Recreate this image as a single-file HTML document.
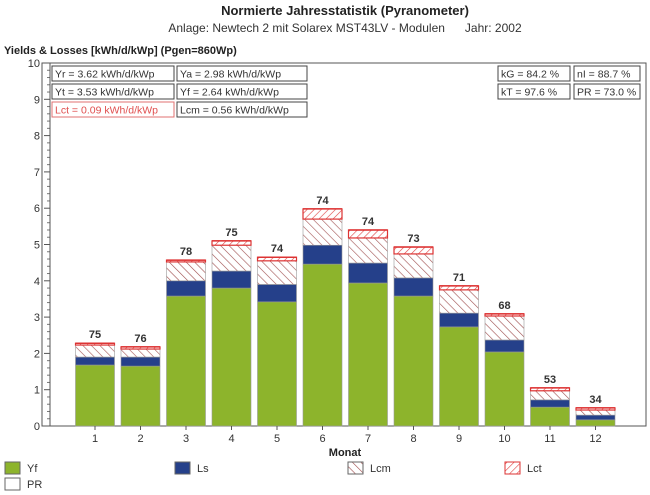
<!DOCTYPE html>
<html><head><meta charset="utf-8"><style>
body{margin:0;background:#fff;}
svg{display:block;font-family:"Liberation Sans",sans-serif;}
</style></head><body>
<svg id="chart" width="650" height="495" viewBox="0 0 650 495">
<defs>
<pattern id="hLcm" width="6" height="6" patternUnits="userSpaceOnUse" patternTransform="rotate(-45)"><rect width="6" height="6" fill="#fff"/><line x1="0" y1="0" x2="0" y2="6" stroke="#a05050" stroke-width="1.2"/></pattern>
<pattern id="hLct" width="5" height="5" patternUnits="userSpaceOnUse" patternTransform="rotate(45)"><rect width="5" height="5" fill="#fff"/><line x1="0" y1="0" x2="0" y2="5" stroke="#e04040" stroke-width="1.2"/></pattern>
</defs>
<text x="345" y="15" text-anchor="middle" font-size="13" font-weight="bold" fill="#222">Normierte Jahresstatistik (Pyranometer)</text>
<text x="345" y="32" text-anchor="middle" font-size="12" fill="#333">Anlage: Newtech 2 mit Solarex MST43LV - Modulen &#160;&#160;&#160;&#160;&#160;Jahr: 2002</text>
<text x="4" y="54" font-size="11" font-weight="bold" fill="#222">Yields &amp; Losses [kWh/d/kWp] (Pgen=860Wp)</text>
<rect x="42" y="63" width="604" height="363" fill="none" stroke="#555" stroke-width="1"/>
<g id="axes"></g>
<g id="bars"></g>
<g id="boxes" font-size="10.5"></g>
<text x="345" y="456" text-anchor="middle" font-size="11" font-weight="bold" fill="#222">Monat</text>
<g id="legend" font-size="11"></g>
</svg>
<script>
const months=["1","2","3","4","5","6","7","8","9","10","11","12"];
const yf=[1.68,1.65,3.58,3.8,3.42,4.46,3.94,3.58,2.73,2.04,0.52,0.17];
const ls=[0.22,0.25,0.42,0.47,0.48,0.52,0.55,0.5,0.38,0.33,0.2,0.13];
const lcm=[0.33,0.22,0.52,0.71,0.65,0.72,0.69,0.66,0.64,0.66,0.25,0.14];
const lct=[0.05,0.06,0.05,0.12,0.1,0.28,0.22,0.19,0.11,0.06,0.08,0.06];
const pr=[75,76,78,75,74,74,74,73,71,68,53,34];
const yTicks=[0,1,2,3,4,5,6,7,8,9,10];
const NS="http://www.w3.org/2000/svg";
const y=v=>426-v*36.3;
const x=i=>95+i*45.5;
function mk(t,a,p){const e=document.createElementNS(NS,t);for(const k in a)e.setAttribute(k,a[k]);p.appendChild(e);return e;}
const axes=document.getElementById('axes');
yTicks.forEach(t=>{
 const l=mk('line',{x1:44,x2:50,y1:y(t),y2:y(t),stroke:'#555'},axes);
 
 
 if(t<10){for(let k=1;k<5;k++){const m=mk('line',{x1:47,x2:50,y1:y(t+k*0.2),y2:y(t+k*0.2),stroke:'#777'},axes);}}
 const tx=mk('text',{x:40,y:y(t)+4,'text-anchor':'end','font-size':11,fill:'#333'},axes);
 tx.textContent=t;
 
 
});
const ax=mk('line',{x1:50,x2:50,y1:63,y2:426,stroke:'#555'},axes);


const bars=document.getElementById('bars');
months.forEach((m,i)=>{
 const cx=x(i),w=39,x0=cx-w/2;
 const segs=[[0,yf[i],'#8db42c','yf'],[yf[i],yf[i]+ls[i],'#25408a','ls'],[yf[i]+ls[i],yf[i]+ls[i]+lcm[i],'url(#hLcm)','lcm'],[yf[i]+ls[i]+lcm[i],yf[i]+ls[i]+lcm[i]+lct[i],'url(#hLct)','lct']];
 segs.forEach(s=>{
  const r=mk('rect',{x:x0,y:y(s[1]),width:w,height:y(s[0])-y(s[1]),fill:s[2],stroke:s[3]=='lct'?'#d33':'#999','stroke-width':s[3]=='lct'?1.2:0.6},bars);
  
  
 });
 const top=yf[i]+ls[i]+lcm[i]+lct[i];
 const ln=mk('line',{x1:x0,x2:x0+w,y1:y(top),y2:y(top),stroke:'#d33','stroke-width':1.5},bars);
 
 
 const t=mk('text',{x:cx,y:y(top)-5,'text-anchor':'middle','font-size':11,'font-weight':'bold',fill:'#333'},bars);
 t.textContent=pr[i];
 
 
 const tk=mk('line',{x1:cx,x2:cx,y1:426,y2:430,stroke:'#555'},bars);
 
 
 const xl=mk('text',{x:cx,y:442,'text-anchor':'middle','font-size':11,fill:'#333'},bars);
 xl.textContent=m;
 
 
});
const boxes=document.getElementById('boxes');
[[52,66,122,'Yr = 3.62 kWh/d/kWp','#333'],[177,66,130,'Ya = 2.98 kWh/d/kWp','#333'],[52,84,122,'Yt = 3.53 kWh/d/kWp','#333'],[177,84,130,'Yf = 2.64 kWh/d/kWp','#333'],[52,102,122,'Lct = 0.09 kWh/d/kWp','#e05050'],[177,102,130,'Lcm = 0.56 kWh/d/kWp','#333'],[498,66,72,'kG = 84.2 %','#333'],[574,66,66,'nI = 88.7 %','#333'],[498,84,72,'kT = 97.6 %','#333'],[574,84,66,'PR = 73.0 %','#333']].forEach(b=>{
 const r=mk('rect',{x:b[0],y:b[1],width:b[2],height:15,fill:'#fff',stroke:b[4]=='#333'?'#444':'#e07070'},boxes);
 
 
 const t=mk('text',{x:b[0]+3,y:b[1]+11.5,fill:b[4]},boxes);
 t.textContent=b[3];
 
 
});
const lg=document.getElementById('legend');
[[5,462,'#8db42c','Yf'],[175,462,'#25408a','Ls'],[348,462,'url(#hLcm)','Lcm'],[505,462,'url(#hLct)','Lct'],[5,478,'#fff','PR']].forEach(e=>{
 const r=mk('rect',{x:e[0],y:e[1],width:15,height:12,fill:e[2],stroke:e[3]=='Lct'?'#d33':'#666'},lg);
 
 
 const t=mk('text',{x:e[0]+22,y:e[1]+10,fill:'#333'},lg);
 t.textContent=e[3];
 
 
});
</script>
</body></html>
